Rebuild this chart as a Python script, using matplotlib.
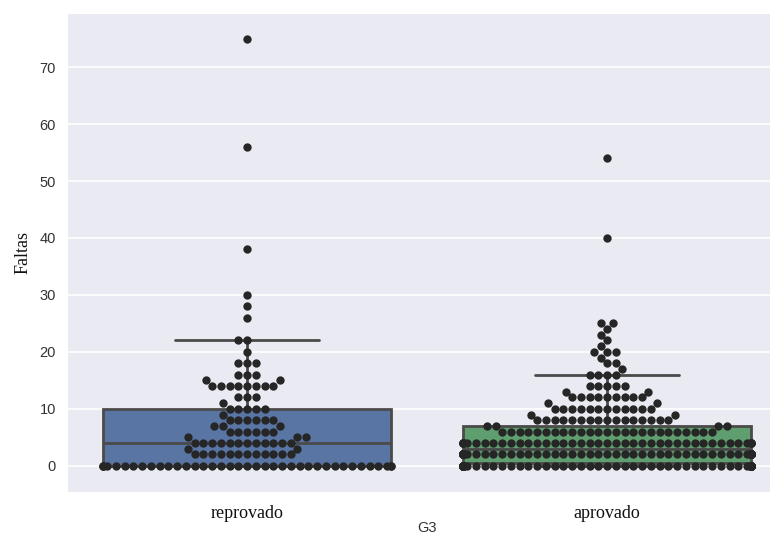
import numpy as np
import pandas as pd
import matplotlib
matplotlib.use("Agg")
import matplotlib.pyplot as plt
import seaborn as sns
import warnings

warnings.filterwarnings("ignore")

categories = ["reprovado", "aprovado"]

faltas_rep = [0, 2, 3, 4, 5, 6, 7, 8, 9, 10, 11, 12, 14, 15, 16, 18, 20, 22, 26, 28, 30, 38, 56, 75]
n_rep      = [38, 12, 2, 12, 3, 6, 3, 6, 1, 5, 1, 3, 8, 2, 3, 3, 1, 2, 1, 1, 1, 1, 1, 1]

faltas_apr = [0, 2, 4, 6, 7, 8, 9, 10, 11, 12, 13, 14, 16, 17, 18, 19, 20, 21, 22, 23, 24, 25, 40, 54]
n_apr      = [70, 69, 43, 25, 4, 16, 2, 12, 2, 9, 2, 5, 4, 1, 2, 1, 3, 1, 1, 1, 1, 2, 1, 1]

yticks = [0, 10, 20, 30, 40, 50, 60, 70]

df = pd.DataFrame({
    "G3": ["reprovado"] * sum(n_rep) + ["aprovado"] * sum(n_apr),
    "Faltas": np.concatenate([np.repeat(faltas_rep, n_rep), np.repeat(faltas_apr, n_apr)]),
})

sns.set_style("darkgrid")

fig = plt.figure(figsize=(7.7, 5.39), dpi=100)
# axes runs past the right edge on purpose: the reference is cropped there
ax = fig.add_axes([67 / 770, 47 / 539, 720 / 770, 479 / 539])

sns.boxplot(data=df, x="G3", y="Faltas", order=categories,
            palette=["#4C72B0", "#55A868"], hue="G3", legend=False,
            saturation=0.75, width=0.8, linewidth=2, linecolor="#4a4a4a",
            showfliers=False, ax=ax)
sns.swarmplot(data=df, x="G3", y="Faltas", order=categories,
              color="#262626", size=6, ax=ax)

ax.set_xlim(-0.5, 1.5)
ax.set_ylim(-4.6, 79.5)
ax.set_yticks(yticks)
ax.xaxis.grid(False)
ax.yaxis.grid(True, color="white", lw=1.2)

for lab in ax.get_yticklabels():
    lab.set_family("Liberation Sans")
    lab.set_fontsize(10.5)
    lab.set_color("#333333")
for lab in ax.get_xticklabels():
    lab.set_family("Liberation Serif")
    lab.set_fontsize(13)
    lab.set_color("#111111")
ax.tick_params(axis="y", length=0, pad=8)
ax.tick_params(axis="x", length=0, pad=9)

ax.set_ylabel("Faltas", family="Liberation Serif", fontsize=13, color="#111111", labelpad=6)
ax.set_xlabel("G3", family="Liberation Sans", fontsize=10.5, color="#333333", labelpad=0)

fig.savefig("out.png", dpi=100)
